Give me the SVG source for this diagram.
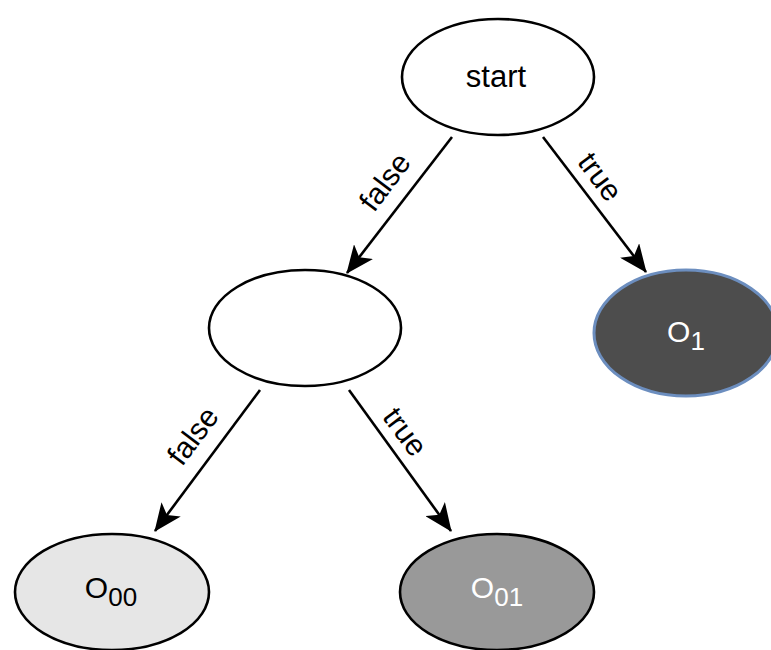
<svg xmlns="http://www.w3.org/2000/svg" width="771" height="650" viewBox="0 0 771 650">
<defs>
<marker id="arr" viewBox="0 0 28 24" refX="27" refY="12" markerWidth="28" markerHeight="24" markerUnits="userSpaceOnUse" orient="auto">
<path d="M0,0 L28,12 L0,24 L7,12 Z" fill="#000"/>
</marker>
</defs>
<style>
.n{stroke:#000;stroke-width:2.6}
.e{stroke:#000;stroke-width:2.6;fill:none;marker-end:url(#arr)}
text{font-family:"Liberation Sans",Arial,sans-serif;font-size:31px;fill:#000;text-anchor:middle}
.lbl{font-size:30px}
.w{fill:#fff}
.o{font-size:30px}
.sub{font-size:26px}
</style>
<rect width="771" height="650" fill="#fff"/>
<g id="connectors">
<line class="e" x1="452" y1="137" x2="347" y2="273"/>
<line class="e" x1="543" y1="137" x2="646" y2="272"/>
<line class="e" x1="260" y1="390" x2="155" y2="531"/>
<line class="e" x1="349" y1="390" x2="451" y2="531"/>
<text class="lbl" transform="translate(393,188) rotate(-53)">false</text>
<text class="lbl" transform="translate(592,183) rotate(53)">true</text>
<text class="lbl" transform="translate(201,442) rotate(-53)">false</text>
<text class="lbl" transform="translate(397,438) rotate(53)">true</text>
</g>
<g id="start">
<ellipse class="n" cx="498" cy="77" rx="96" ry="58" fill="#fff"/>
<text x="496" y="87">start</text>
</g>
<g id="mid">
<ellipse class="n" cx="305" cy="328" rx="96" ry="58" fill="#fff"/>
</g>
<g id="O1">
<ellipse cx="686" cy="333" rx="92" ry="63" fill="#4d4d4d" stroke="#6c8ebf" stroke-width="3"/>
<text x="686" y="342" class="o w">O<tspan class="sub" dy="8">1</tspan></text>
</g>
<g id="O00">
<ellipse class="n" cx="112" cy="592" rx="97" ry="58" fill="#e6e6e6"/>
<text x="111" y="598" class="o">O<tspan class="sub" dy="8">00</tspan></text>
</g>
<g id="O01">
<ellipse class="n" cx="497" cy="592" rx="97" ry="58" fill="#999999"/>
<text x="497" y="598" class="o w">O<tspan class="sub" dy="8">01</tspan></text>
</g>
</svg>
